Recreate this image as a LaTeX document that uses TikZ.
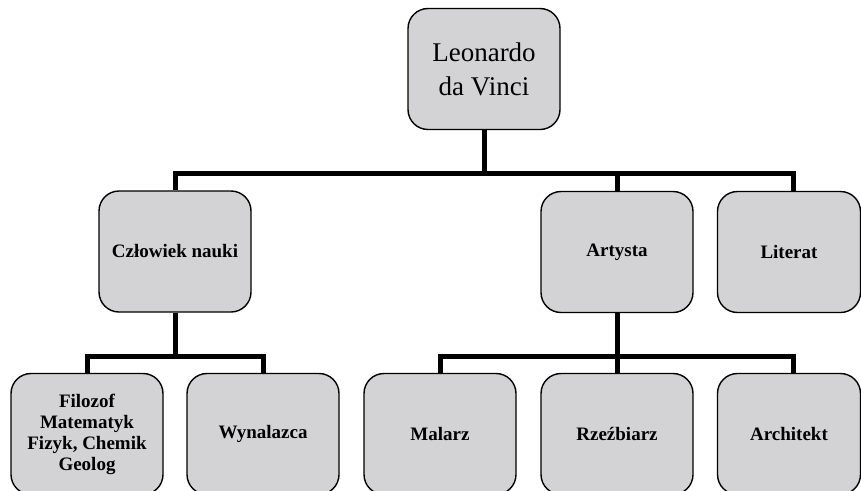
\documentclass[tikz,border=0pt]{standalone}
\usepackage{fontspec}
\setmainfont{Liberation Serif}
\definecolor{boxgray}{RGB}{211,211,214}
\begin{document}
\begin{tikzpicture}[x=1pt,y=-1pt,
  box/.style={draw=black, line width=1.4pt, fill=boxgray, rounded corners=20pt,
    minimum width=152pt, minimum height=121pt, inner sep=0pt, align=center,
    font=\fontsize{19}{21}\selectfont\bfseries},
  narrow/.style={minimum width=143pt},
  bigtext/.style={font=\fontsize{27}{34}\selectfont},
  conn/.style={line width=5pt, line join=miter}]
\useasboundingbox (0,0) rectangle (861,490);
\clip (0,0) rectangle (861,490);
% nodes
\node[box,bigtext] (leo) at (484,69) {Leonardo\\da Vinci};
\node[box] (cz)  at (175,251.5) {Człowiek nauki};
\node[box] (art) at (617,252) {Artysta};
\node[box,narrow] (lit) at (789,252) {Literat};
\node[box] (fil) at (87,434) {Filozof\\Matematyk\\Fizyk, Chemik\\Geolog};
\node[box] (wyn) at (263,434) {Wynalazca};
\node[box] (mal) at (440,434) {Malarz};
\node[box] (rze) at (617,434) {Rzeźbiarz};
\node[box,narrow] (arc) at (789,434) {Architekt};
% junction levels
\coordinate (j1) at (484,173);
\coordinate (j2) at (484,356);
% connectors
\draw[conn] (leo.south) -- (leo.south |- j1);
\draw[conn] (cz.north) |- ([xshift=4pt]lit.north |- j1) -- ([xshift=4pt]lit.north);
\draw[conn] (art.north) -- (art.north |- j1);
\draw[conn] (cz.south) -- (cz.south |- j2);
\draw[conn] (fil.north) |- (wyn.north |- j2) -- (wyn.north);
\draw[conn] (art.south) -- (art.south |- j2);
\draw[conn] (mal.north) |- ([xshift=4pt]arc.north |- j2) -- ([xshift=4pt]arc.north);
\draw[conn] (rze.north) -- (rze.north |- j2);
\end{tikzpicture}
\end{document}
